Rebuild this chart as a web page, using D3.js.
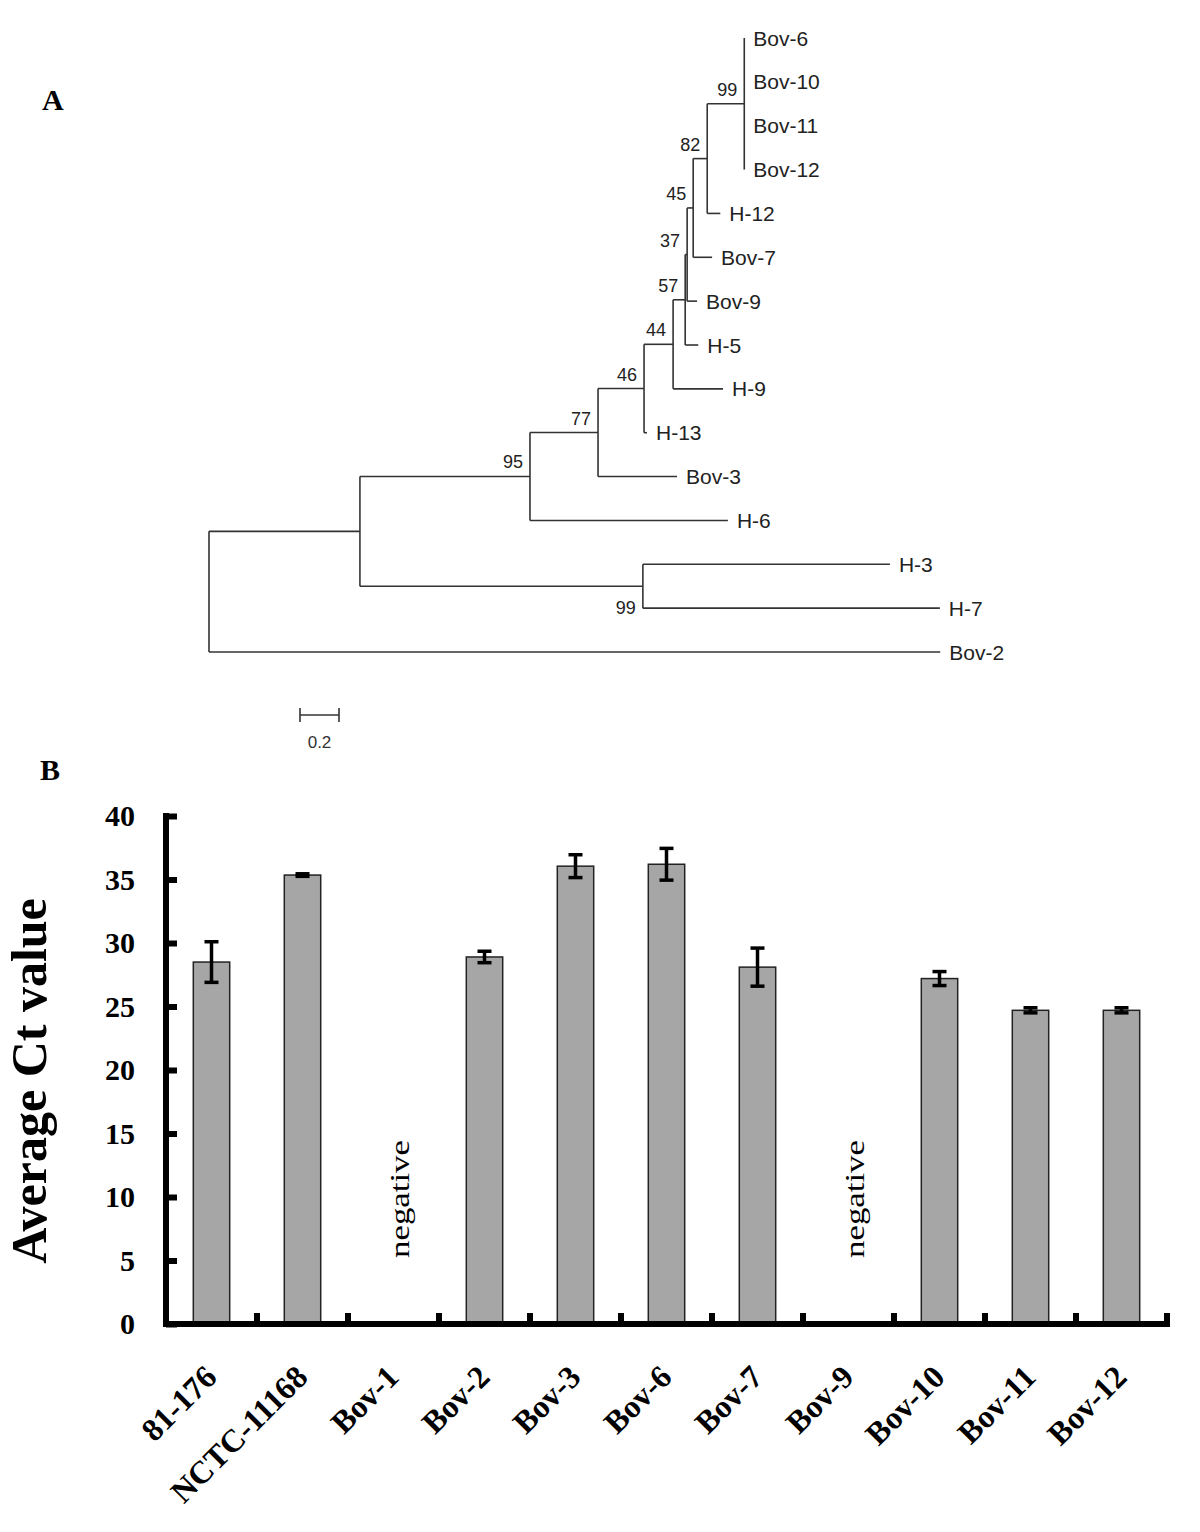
<!DOCTYPE html>
<html><head><meta charset="utf-8">
<script src="https://cdn.jsdelivr.net/npm/d3@7"></script>
<style>body{margin:0;background:#fff}</style>
</head><body>
<svg id="chart" width="1200" height="1532"></svg>
<script>
// ---------- Panel A: phylogenetic tree ----------
const treeIds       = ["root","n1","Bov-2","n95","n99b","n77","H-6","H-3","H-7","n46","Bov-3","n44","H-13","n57","H-9","n37","H-5","n45","Bov-9","n82","Bov-7","n99","H-12","Bov-6","Bov-10","Bov-11","Bov-12"];
const treeParents   = [null,"root","root","n1","n1","n95","n95","n99b","n99b","n77","n77","n46","n46","n44","n44","n57","n57","n37","n37","n45","n45","n82","n82","n99","n99","n99","n99"];
const branchLengths = [0,0.774,3.75,0.872,1.451,0.349,1.015,1.267,1.523,0.236,0.405,0.149,0.015,0.062,0.256,0.010,0.067,0.031,0.051,0.072,0.097,0.19,0.067,0,0,0,0];
const bootstrap     = [null,null,null,95,99,77,null,null,null,46,null,44,null,57,null,37,null,45,null,82,null,99,null,null,null,null,null];
const scaleBarValue = 0.2;

// ---------- Panel B: bar chart ----------
const categories = ["81-176","NCTC-11168","Bov-1","Bov-2","Bov-3","Bov-6","Bov-7","Bov-9","Bov-10","Bov-11","Bov-12"];
const ctMeans    = [28.5,35.35,null,28.9,36.05,36.2,28.1,null,27.2,24.7,24.7];
const ctErrors   = [1.6,0.1,null,0.45,0.9,1.25,1.5,null,0.55,0.2,0.2];
const yTicks     = [0,5,10,15,20,25,30,35,40];
const negativeLabel = "negative";

const svg = d3.select("#chart");
const serif = "'Liberation Serif','Times New Roman',serif";
const sans = "'Liberation Sans',Arial,sans-serif";
const treeColor = "#333";

// ----- Tree -----
const rows = treeIds.map((id,i)=>({id, parent:treeParents[i], len:branchLengths[i], bs:bootstrap[i]}));
const root = d3.stratify().id(d=>d.id).parentId(d=>d.parent)(rows);
root.each(n => { n.dist = n.parent ? n.parent.dist + n.data.len : 0; });
const xTree = d3.scaleLinear().domain([0,1]).range([209, 404]);
const leaves = root.leaves();
const yTree = d3.scalePoint().domain(leaves.map(d=>d.id)).range([38, 652]);
root.eachAfter(n => {
  n.px = xTree(n.dist);
  n.py = n.children ? (n.children[0].py + n.children[n.children.length-1].py)/2 : yTree(n.id);
});
const gT = svg.append("g");
root.descendants().forEach(n => {
  if (n.parent) gT.append("line").attr("x1", n.parent.px).attr("x2", n.px).attr("y1", n.py).attr("y2", n.py)
      .attr("stroke", treeColor).attr("stroke-width", 1.6);
  if (n.children) gT.append("line").attr("x1", n.px).attr("x2", n.px)
      .attr("y1", n.children[0].py).attr("y2", n.children[n.children.length-1].py)
      .attr("stroke", treeColor).attr("stroke-width", 1.6);
});
leaves.forEach(n => {
  gT.append("text").attr("x", n.px + 9).attr("y", n.py).attr("dy", "0.36em")
    .attr("font-family", sans).attr("font-size", 21).attr("fill", "#222").text(n.id);
});
root.descendants().filter(n => n.data.bs != null).forEach(n => {
  const below = n.id === "n99b";
  gT.append("text").attr("x", n.px - 7).attr("y", below ? n.py + 28 : n.py - 8)
    .attr("text-anchor", "end").attr("font-family", sans).attr("font-size", 18).attr("fill", "#222")
    .text(n.data.bs);
});
// scale bar
const sbX0 = 300, sbW = xTree(scaleBarValue) - xTree(0), sbY = 715;
gT.append("line").attr("x1", sbX0).attr("x2", sbX0 + sbW).attr("y1", sbY).attr("y2", sbY).attr("stroke", treeColor).attr("stroke-width", 1.6);
[sbX0, sbX0 + sbW].forEach(x => gT.append("line").attr("x1", x).attr("x2", x).attr("y1", sbY-7).attr("y2", sbY+7).attr("stroke", treeColor).attr("stroke-width", 1.6));
gT.append("text").attr("x", sbX0 + sbW/2).attr("y", 748).attr("text-anchor","middle")
  .attr("font-family", sans).attr("font-size", 17).attr("fill", "#333").text(scaleBarValue);

svg.append("text").attr("x", 42).attr("y", 110).attr("font-family", serif).attr("font-weight","bold").attr("font-size", 30).text("A");
svg.append("text").attr("x", 40).attr("y", 780).attr("font-family", serif).attr("font-weight","bold").attr("font-size", 30).text("B");

// ----- Bar chart -----
const x = d3.scaleBand().domain(categories).range([166, 1167]).paddingInner(0.6).paddingOuter(0.3);
const y = d3.scaleLinear().domain([0, 40]).range([1324, 816]);
const gB = svg.append("g");
const step = x.step();
const bars = categories.map((c,i)=>({c, m:ctMeans[i], e:ctErrors[i]}));

gB.selectAll("rect.bar").data(bars.filter(d=>d.m!=null)).join("rect")
  .attr("x", d=>x(d.c)).attr("width", x.bandwidth())
  .attr("y", d=>y(d.m)).attr("height", d=>y(0)-y(d.m))
  .attr("fill", "#a6a6a6").attr("stroke", "#222").attr("stroke-width", 1.5);

const eb = gB.selectAll("g.err").data(bars.filter(d=>d.m!=null)).join("g");
eb.append("line").attr("x1", d=>x(d.c)+x.bandwidth()/2).attr("x2", d=>x(d.c)+x.bandwidth()/2)
  .attr("y1", d=>y(d.m+d.e)).attr("y2", d=>y(d.m-d.e)).attr("stroke","#000").attr("stroke-width",3.5);
[1,-1].forEach(s => eb.append("line")
  .attr("x1", d=>x(d.c)+x.bandwidth()/2-7).attr("x2", d=>x(d.c)+x.bandwidth()/2+7)
  .attr("y1", d=>y(d.m+s*d.e)).attr("y2", d=>y(d.m+s*d.e)).attr("stroke","#000").attr("stroke-width",3.5));

// negative labels
bars.filter(d=>d.m==null).forEach(d => {
  const cx = x(d.c) + x.bandwidth()/2;
  gB.append("text").attr("transform", `translate(${cx+7},1199) rotate(-90)`)
    .attr("text-anchor","middle").attr("dy","0.32em")
    .attr("font-family", serif).attr("font-size", 28)
    .attr("textLength", 118).attr("lengthAdjust","spacingAndGlyphs").text(negativeLabel);
});

// y axis
const yAxis = d3.axisLeft(y).tickValues(yTicks).tickSizeInner(-11).tickSizeOuter(0).tickPadding(31);
const ya = gB.append("g").attr("transform", "translate(166,0)").call(yAxis);
ya.select(".domain").attr("stroke","#000").attr("stroke-width",6).attr("d", `M0,${y(40)-3}V${y(0)+3}`);
ya.selectAll(".tick line").attr("stroke","#000").attr("stroke-width",6);
ya.selectAll(".tick text").attr("font-family", serif).attr("font-weight","bold").attr("font-size", 30).attr("fill","#000");

// x axis
const x0 = x.range()[0];
gB.append("line").attr("x1", 163).attr("x2", x.range()[1]+3).attr("y1", y(0)).attr("y2", y(0)).attr("stroke","#000").attr("stroke-width",6);
d3.range(1, categories.length+1).forEach(i => {
  const tx = x0 + i*step;
  gB.append("line").attr("x1", tx).attr("x2", tx).attr("y1", y(0)).attr("y2", y(0)-11).attr("stroke","#000").attr("stroke-width",6);
});
categories.forEach(c => {
  const cx = x(c) + x.bandwidth()/2;
  gB.append("text").attr("transform", `translate(${cx+7},1379) rotate(-45)`)
    .attr("text-anchor","end").attr("font-family", serif).attr("font-weight","bold").attr("font-size", 32).text(c);
});

// y label
svg.append("text").attr("transform","translate(46,1081) rotate(-90)").attr("text-anchor","middle")
  .attr("font-family", serif).attr("font-weight","bold").attr("font-size", 50).text("Average Ct value");
</script>
</body></html>
